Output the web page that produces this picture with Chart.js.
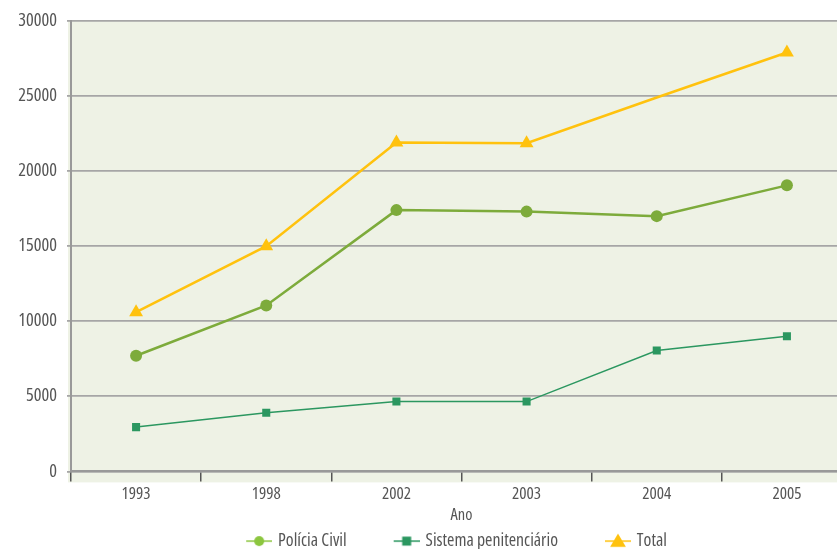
<!DOCTYPE html>
<html>
<head>
<meta charset="utf-8">
<script src="https://cdn.jsdelivr.net/npm/chart.js@4.4.0/dist/chart.umd.min.js"></script>
<style>
html,body{margin:0;padding:0;overflow:hidden;background:#fff}
#caixa{width:860px;height:560px}
</style>
</head>
<body>
<div id="caixa"><canvas id="grafico" width="860" height="560"></canvas></div>
<script>
const anos = ['1993','1998','2002','2003','2004','2005'];
const policiaCivil = [7700,11050,17400,17300,17000,19050];
const sistemaPenitenciario = [2950,3900,4650,4650,8050,9000];
const total = [10600,15000,21900,21850,24900,27900];
const raioTotal = [8,8,8,8,0,8];
const ticksY = [0,5000,10000,15000,20000,25000,30000];

const corPolicia = '#7dab3b';
const corSistema = '#2b9760';
const corTotal = '#ffc20e';

// procura a fonte mais estreita parecida com a do original (digito ~0.6 da altura)
function escolherFonte(){
    const opcoes = [
        ['condensed', "'Noto Sans'"],
        ['condensed', "'Open Sans'"],
        ['condensed', "Roboto"],
        ['normal', "'Liberation Sans Narrow'"],
        ['normal', "'DejaVu Sans Condensed'"],
        ['normal', "'Liberation Sans'"]
    ];
    const c = document.createElement('canvas').getContext('2d');
    const amostra = 'Sistema penitenciário 0123456789';
    c.font = '100px monospace';
    const base = c.measureText(amostra).width;
    let melhor = null;
    for(const [est, fam] of opcoes){
        c.font = `${est} 100px ${fam}, monospace`;
        if(Math.abs(c.measureText(amostra).width - base) < 0.5) continue;
        const m = c.measureText('0');
        const alt = m.actualBoundingBoxAscent / 100;
        const razao = m.width / 100 / alt;
        const nota = Math.abs(razao - 0.62);
        if(!melhor || nota < melhor.nota) melhor = {est, fam, alt, nota};
    }
    return melhor || {est:'normal', fam:'sans-serif', alt:0.72};
}
const f = escolherFonte();
const fonte = t => ({ family: f.fam, weight: f.est, size: Math.round(t / f.alt * 10) / 10 });

const larguraCaixa = 70;
function icone(cor, estilo, raio){
    const cv = document.createElement('canvas');
    cv.width = larguraCaixa + 6; cv.height = 18;
    const c = cv.getContext('2d');
    const fim = cv.width, ini = fim - 26, meio = ini + 13;
    c.strokeStyle = cor; c.fillStyle = cor; c.lineWidth = 1.5;
    c.beginPath(); c.moveTo(ini,9); c.lineTo(fim,9); c.stroke();
    c.beginPath();
    if(estilo=='circle'){
        c.arc(meio,9,raio,0,Math.PI*2);
    }else if(estilo=='rect'){
        c.rect(meio-raio,9-raio,raio*2,raio*2);
    }else{
        c.moveTo(meio,9-raio); c.lineTo(meio+raio*1.05,9+raio*0.75); c.lineTo(meio-raio*1.05,9+raio*0.75); c.closePath();
    }
    c.fill();
    return cv;
}
const icones = [icone('#8cc63f','circle',5), icone(corSistema,'rect',4.5), icone(corTotal,'triangle',7.5)];

const fundo = {
    id: 'fundo',
    beforeDraw(chart){
        const a = chart.chartArea, c = chart.ctx;
        c.save();
        c.fillStyle = '#eef2e5';
        c.fillRect(a.left-3, a.top, a.right-a.left+3, a.bottom-a.top+11);
        c.restore();
    }
};

const ctx = document.getElementById('grafico').getContext('2d');
const grafico = new Chart(ctx, {
    type: 'line',
    data: {
        labels: anos,
        datasets: [{
            label: 'Polícia Civil',
            data: policiaCivil,
            borderColor: corPolicia,
            backgroundColor: corPolicia,
            borderWidth: 2.5,
            pointStyle: 'circle',
            pointRadius: 6,
            pointBorderWidth: 0,
            tension: 0
        },{
            label: 'Sistema penitenciário',
            data: sistemaPenitenciario,
            borderColor: corSistema,
            backgroundColor: corSistema,
            borderWidth: 1.5,
            pointStyle: 'rect',
            pointRadius: 5.7,
            pointBorderWidth: 0,
            tension: 0
        },{
            label: 'Total',
            data: total,
            borderColor: corTotal,
            backgroundColor: corTotal,
            borderWidth: 2.5,
            pointStyle: 'triangle',
            pointRadius: raioTotal,
            pointBorderWidth: 0,
            tension: 0
        }]
    },
    options: {
        responsive: false,
        animation: false,
        layout: { padding: { top: 20, right: 6, left: 12, bottom: 0 } },
        scales: {
            x: {
                offset: true,
                afterFit: s => { s.height = 60.8; },
                grid: { offset: true, drawOnChartArea: false, tickLength: 10, color: '#555', lineWidth: 1.5 },
                border: { color: '#999', width: 2 },
                ticks: { color: '#555', font: fonte(12.5), padding: 2 },
                title: { display: true, text: 'Ano', color: '#555', font: fonte(12), padding: { top: 0, bottom: 7 } }
            },
            y: {
                min: 0,
                max: 30000,
                afterBuildTicks: s => { s.ticks = ticksY.map(v => ({ value: v })); },
                afterFit: s => { s.width = 59; },
                grid: { color: '#a6a6a6', lineWidth: 1.8, tickLength: 4 },
                border: { color: '#999', width: 2 },
                ticks: { color: '#555', font: fonte(13.3), padding: 10, callback: v => String(v) }
            }
        },
        plugins: {
            legend: {
                display: true,
                position: 'bottom',
                labels: {
                    usePointStyle: true,
                    pointStyleWidth: larguraCaixa,
                    color: '#555',
                    padding: 0,
                    font: fonte(13),
                    generateLabels: chart => Chart.defaults.plugins.legend.labels.generateLabels(chart).map((l, i) => {
                        l.pointStyle = icones[i];
                        return l;
                    })
                }
            },
            tooltip: { enabled: false }
        }
    },
    plugins: [fundo]
});
</script>
</body>
</html>
